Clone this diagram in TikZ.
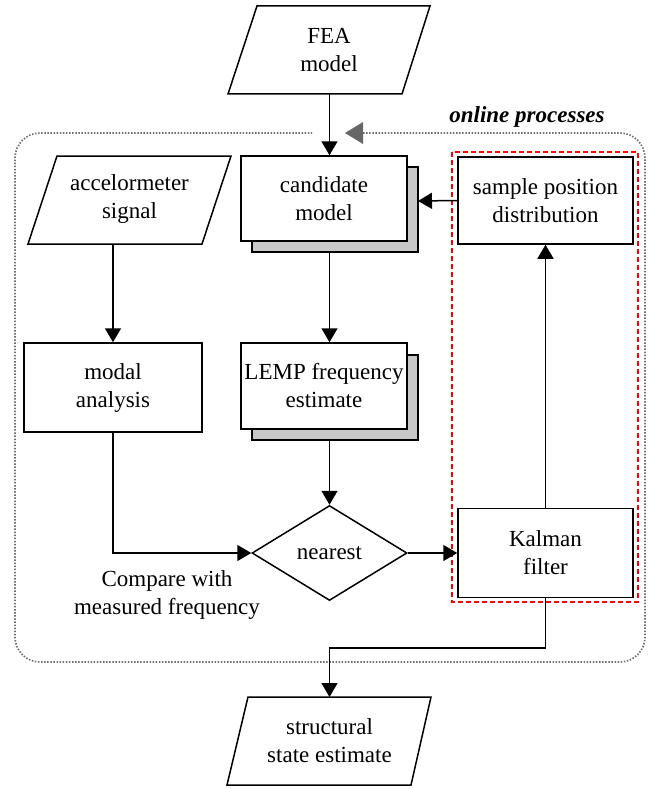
\documentclass[tikz,border=0pt]{standalone}
\usepackage{fontspec}
\setmainfont{Liberation Serif}
\usetikzlibrary{arrows.meta,shapes.geometric}
\definecolor{shadowgray}{HTML}{C8C8C8}
\definecolor{dotgray}{HTML}{707070}
\definecolor{tipgray}{HTML}{666666}
\begin{document}
\begin{tikzpicture}[x=1pt,y=-1pt,
  every node/.style={font=\fontsize{23}{28}\selectfont, align=center},
  procbox/.style={draw, fill=white, line width=1.5pt, inner sep=1pt},
  para/.style={draw, fill=white, line width=1.5pt},
  shad/.style={draw, fill=shadowgray, line width=1.5pt},
  arr/.style={line width=1.5pt, -{Triangle[length=14pt,width=16pt]}},
  decbox/.style={draw, diamond, line width=1.5pt, fill=white, aspect=1.63, minimum width=155pt, minimum height=95pt, inner sep=0pt}
]
\useasboundingbox (0,0) rectangle (654,789);

% online processes frame (dotted)
\draw[dotgray, line width=1.7pt, dash pattern=on 1.5pt off 1.6pt, rounded corners=25pt]
  (363,133) -- (645,133) -- (645,662) -- (15,662) -- (15,133) -- (312,133);
\fill[tipgray] (345,133) -- (363,122) -- (363,144) -- cycle;
\node[font=\fontsize{23}{28}\selectfont\bfseries\itshape] (online) at (527,117) {online processes};

% red dashed group
\draw[red, line width=1.4pt, dash pattern=on 5pt off 3pt] (452,152) rectangle (638,602);

% FEA model
\draw[para] (257,6) -- (430,6) -- (402,94) -- (228,94) -- cycle;
\node (fea) at (329,50) {FEA\\model};
\coordinate (feab) at (329.5,94);

% accelerometer signal
\draw[para] (57,156) -- (231,156) -- (202,244) -- (28,244) -- cycle;
\node (acc) at (129.5,199) {accelormeter\\signal};
\coordinate (accb) at (113,244);

% candidate model with shadow
\draw[shad] (252,167) rectangle (418,252);
\node[procbox, minimum width=166pt, minimum height=85pt] (cand) at (324,198.5) {candidate\\model};
\coordinate (candsb) at (329.5,252);
\coordinate (candsr) at (418,201);

% LEMP with shadow
\draw[shad] (252,355) rectangle (418,440);
\node[procbox, minimum width=166pt, minimum height=86pt] (lemp) at (324,386) {LEMP frequency\\estimate};
\coordinate (lempsb) at (329.5,440);

% modal analysis
\node[procbox, minimum width=178pt, minimum height=89pt] (modal) at (113,387.5) {modal\\analysis};

% sample position distribution
\node[procbox, minimum width=175pt, minimum height=87pt] (sample) at (545.5,200.5) {sample position\\distribution};

% Kalman filter
\node[procbox, minimum width=175pt, minimum height=89pt] (kal) at (545.5,553) {Kalman\\filter};

% nearest
\node[decbox] (near) at (329.5,553) {nearest};

% compare text
\node (cmp) at (167,595) {Compare with\\measured frequency};

% structural state estimate
\draw[para] (248,697) -- (431,697) -- (411,785) -- (227,785) -- cycle;
\node (sse) at (329.5,741) {structural\\state estimate};
\coordinate (sset) at (329.5,697);
\coordinate (kbend) at (545.5,648);

% connectors
\draw[arr] (feab) -- (feab |- cand.north);
\draw[arr] (candsb) -- (candsb |- lemp.north);
\draw[arr] (lempsb) -- (near.north);
\draw[arr] (accb) -- (modal.north);
\draw[arr] (modal.south) |- (near.west);
\draw[arr] (near.east) -- (kal.west);
\draw[arr] (kal.north) -- (sample.south);
\draw[arr] (sample.west) -- (candsr);
\draw[arr] (kal.south) -- (kbend) -| (sset);
\end{tikzpicture}
\end{document}
